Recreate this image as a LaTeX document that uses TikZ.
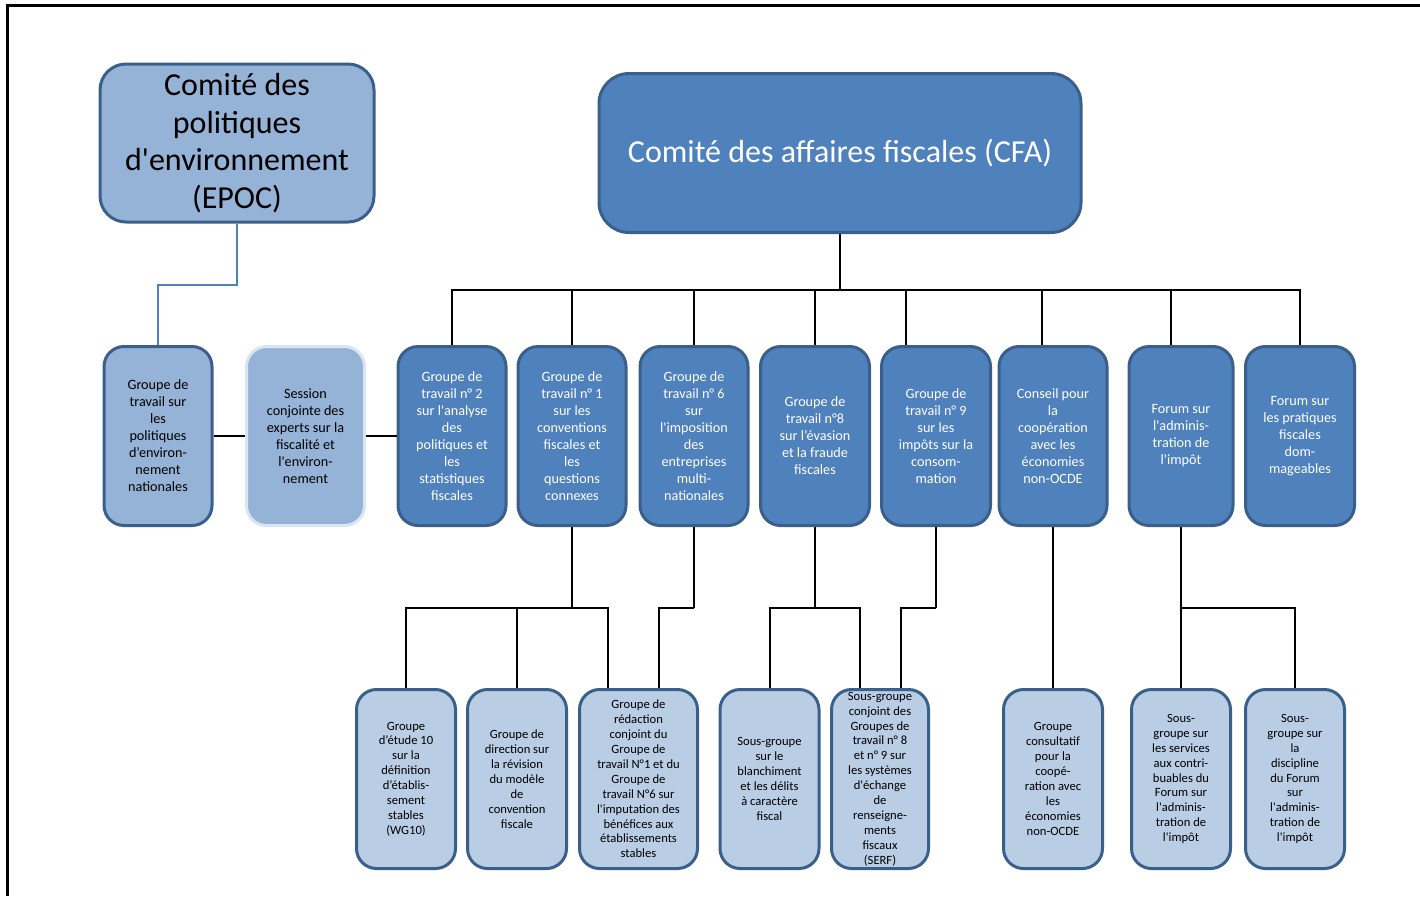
\documentclass[tikz,border=0pt]{standalone}
\usepackage{fontspec}
\setmainfont{Carlito}
\definecolor{boxline}{HTML}{3A5F8B}
\definecolor{midblue}{HTML}{4F81BD}
\definecolor{paleblue}{HTML}{95B3D7}
\definecolor{lightblue}{HTML}{B9CDE5}
\definecolor{faintline}{HTML}{DBE5F1}
\newcommand{\aq}{\textquotesingle}

\begin{document}
\begin{tikzpicture}[x=0.5pt,y=-0.5pt]
  \tikzset{base/.style = {shape=rectangle,rounded corners=10pt,draw=boxline,line width=1.5pt,align=center,inner sep=2pt}}
  \tikzset{mid/.style = {base,fill=midblue,text=white,minimum width=54pt,minimum height=89.5pt,font=\fontsize{7.1}{8.5}\selectfont}}
  \tikzset{pale/.style = {mid,fill=paleblue,text=black}}
  \tikzset{low/.style = {base,fill=lightblue,inner ysep=0pt,minimum width=49.5pt,minimum height=89.5pt,font=\fontsize{6.3}{7.45}\selectfont}}
  \tikzset{link/.style = {draw=black,line width=0.9pt}}
  \useasboundingbox (0,0) rectangle (1420,896);
  \draw[line width=1.5pt] (1420,5) -- (7,5) -- (7,896);

  \node[base][fill=paleblue,rounded corners=13pt,minimum width=137pt,minimum height=79pt,font=\fontsize{16}{18.75}\selectfont] (epoc) at (237,143) {Comité des\\politiques\\d\aq environnement\\(EPOC)};
  \node[base][fill=midblue,text=white,rounded corners=15pt,minimum width=241pt,minimum height=79.5pt,font=\fontsize{16}{18.75}\selectfont] (cfa) at (840,153) {Comité des affaires fiscales (CFA)};

	\node[pale] (env) at (158,436) {Groupe de\\travail sur\\les\\politiques\\d’environ-\\nement\\nationales};
	\node[pale][draw=faintline,minimum width=59pt] (session) at (305.5,436) {Session\\conjointe des\\experts sur la\\fiscalité et\\l\aq environ-\\nement};
	\node[mid] (gt2) at (452,436) {Groupe de\\travail n° 2\\sur l\aq analyse\\des\\politiques et\\les\\statistiques\\fiscales};
	\node[mid] (gt1) at (572,436) {Groupe de\\travail n° 1\\sur les\\conventions\\fiscales et\\les\\questions\\connexes};
	\node[mid] (gt6) at (694,436) {Groupe de\\travail n° 6\\sur\\l\aq imposition\\des\\entreprises\\multi-\\nationales};
	\node[mid][minimum width=54.5pt] (gt8) at (815,436) {Groupe de\\travail n°8\\sur l’évasion\\et la fraude\\fiscales};
	\node[mid][minimum width=54.5pt] (gt9) at (936,436) {Groupe de\\travail n° 9\\sur les\\impôts sur la\\consom-\\mation};
	\node[mid] (conseil) at (1053,436) {Conseil pour\\la\\coopération\\avec les\\économies\\non-OCDE};
	\node[mid][minimum width=52pt] (forumadm) at (1181,436) {Forum sur\\l\aq adminis-\\tration de\\l\aq impôt};
	\node[mid][minimum width=54.5pt] (forumprat) at (1300,436) {Forum sur\\les pratiques\\fiscales\\dom-\\mageables};

	\node[low] (ge10) at (406,779) {Groupe\\d’étude 10\\sur la\\définition\\d’établis-\\sement\\stables\\(WG10)};
	\node[low] (direction) at (517,779) {Groupe de\\direction sur\\la révision\\du modèle\\de\\convention\\fiscale};
	\node[low][minimum width=59pt,text depth=-7pt] (redaction) at (638.5,779) {Groupe de\\rédaction\\conjoint du\\Groupe de\\travail N°1 et du\\Groupe de\\travail N°6 sur\\l\aq imputation des\\bénéfices aux\\établissements\\stables};
	\node[low] (blanchiment) at (769.5,779) {Sous-groupe\\sur le\\blanchiment\\et les délits\\à caractère\\fiscal};
	\node[low][minimum width=48.5pt] (serf) at (880,779) {Sous-groupe\\conjoint des\\Groupes de\\travail n° 8\\et n° 9 sur\\les systèmes\\d\aq échange\\de\\renseigne-\\ments\\fiscaux\\(SERF)};
	\node[low] (consultatif) at (1053,779) {Groupe\\consultatif\\pour la\\coopé-\\ration avec\\les\\économies\\non-OCDE};
	\node[low] (services) at (1181,779) {Sous-\\groupe sur\\les services\\aux contri-\\buables du\\Forum sur\\l\aq adminis-\\tration de\\l\aq impôt};
	\node[low] (discipline) at (1295,779) {Sous-\\groupe sur\\la\\discipline\\du Forum\\sur\\l\aq adminis-\\tration de\\l\aq impôt};

  \coordinate (ebend) at (237,285);
  \coordinate (bus) at (840,290);
  \coordinate (bus1) at (572,608);
  \coordinate (bus6) at (694,608);
  \coordinate (bus8) at (815,608);
  \coordinate (bus9) at (936,608);
  \coordinate (busf) at (1181,608);

  \draw[draw=midblue,line width=0.6pt] (epoc.south) -- (ebend) -| (env.north);
  \path[link] (env) edge (session) (session) edge (gt2);

    \foreach \to/\dx in {gt2/0,gt1/0,gt6/0,gt8/0,gt9/-15,conseil/-5.5,forumadm/-5,forumprat/0}
    \path[link] (cfa.south) -- (bus) -| ([xshift=\dx pt]\to.north);
    \foreach \from/\to/\dx in {bus1/ge10/0,bus1/direction/0,bus1/redaction/-15.25,bus6/redaction/10.25,bus8/blanchiment/0.25,bus8/serf/-10,bus9/serf/10.5,busf/services/0,busf/discipline/0}
    \path[link] (\from) -| ([xshift=\dx pt]\to.north);
    \foreach \from/\to in {gt1/bus1,gt6/bus6,gt8/bus8,gt9/bus9,forumadm/busf,conseil/consultatif}
    \path[link] (\from.south) -- (\to |- 0,608) -- (\to);
\end{tikzpicture}
\end{document}
